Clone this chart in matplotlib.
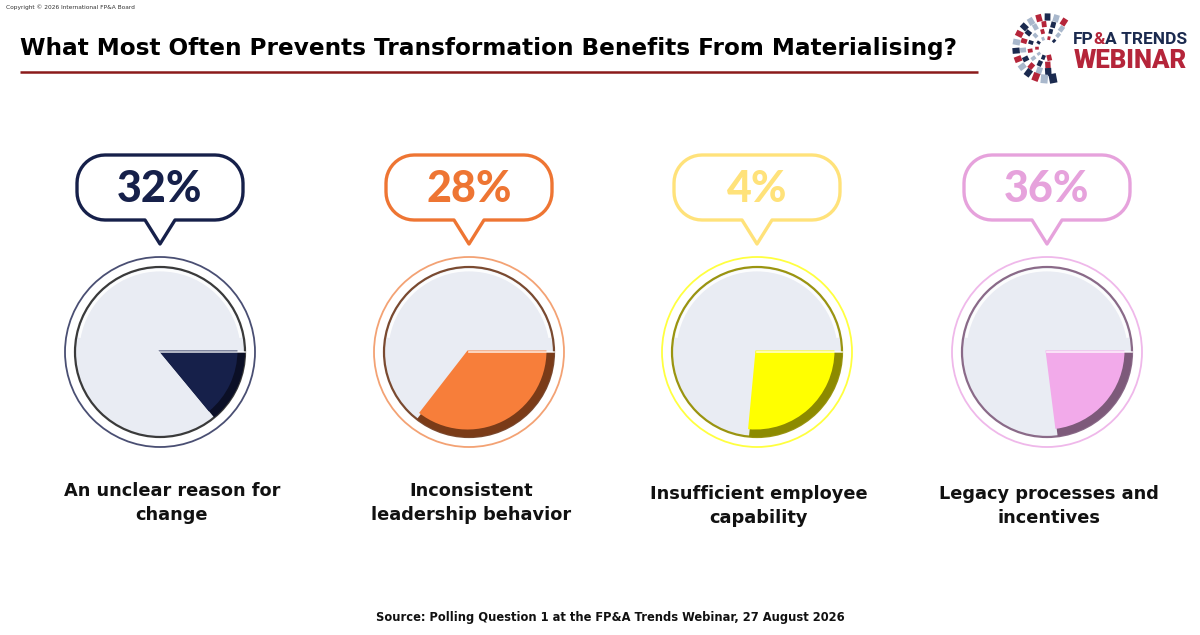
import matplotlib
matplotlib.use("Agg")
import matplotlib.pyplot as plt
import numpy as np
from matplotlib.patches import Arc, Circle, Polygon, Rectangle, Wedge
from matplotlib.transforms import Affine2D

# ---- data ----
categories = [
    "An unclear reason for\nchange",
    "Inconsistent\nleadership behavior",
    "Insufficient employee\ncapability",
    "Legacy processes and\nincentives",
]
percent_values = [32, 28, 4, 36]
# the pies are decorative: wedge share of the circle as drawn
wedge_fracs = [0.14, 0.355, 0.265, 0.23]

title = "What Most Often Prevents Transformation Benefits From Materialising?"
source = "Source: Polling Question 1 at the FP&A Trends Webinar, 27 August 2026"
copyright_txt = "Copyright \u00a9 2026 International FP&A Board"

# ---- styling ----
text_colors = ["#16204a", "#ee7533", "#ffe27a", "#e6a2dc"]
wedge_colors = ["#16204a", "#f77e3a", "#ffff00", "#f2aaea"]
shade_colors = ["#0b0f26", "#7a3b18", "#8c8a00", "#7d5a7a"]
ring_colors = ["#4a4f73", "#f3a274", "#ffff40", "#efb8ea"]
edge_colors = ["#3a3a3a", "#7a4a30", "#9a9410", "#8a6a88"]
pie_face = "#e9ecf3"

centers_x = [160, 469, 757, 1047]
pie_y = 352
ring_r = 95
pie_r = 85

fig = plt.figure(figsize=(12, 6.35), dpi=100)
ax = fig.add_axes([0, 0, 1, 1])
ax.set_xlim(0, 1200)
ax.set_ylim(635, 0)
ax.axis("off")


def bubble_points(cx, top, w, h, rr, tail_half, tail_len):
    """Rounded rectangle with a downward tail, screen coords (y down)."""
    l, r, t, b = cx - w / 2, cx + w / 2, top, top + h
    pts = []

    def arc(xc, yc, a0, a1):
        for a in np.linspace(np.radians(a0), np.radians(a1), 12):
            pts.append((xc + rr * np.cos(a), yc + rr * np.sin(a)))

    arc(r - rr, t + rr, -90, 0)
    arc(r - rr, b - rr, 0, 90)
    pts.append((cx + tail_half, b))
    pts.append((cx, b + tail_len))
    pts.append((cx - tail_half, b))
    arc(l + rr, b - rr, 90, 180)
    arc(l + rr, t + rr, 180, 270)
    return pts


for i, cx in enumerate(centers_x):
    # speech bubble with the percentage
    pts = bubble_points(cx, 155, 166, 65, 28, 15, 24)
    ax.add_patch(Polygon(pts, closed=True, facecolor="white",
                         edgecolor=text_colors[i], lw=2.4, joinstyle="round"))
    ax.text(cx, 189, f"{percent_values[i]}%", ha="center", va="center",
            fontsize=31, fontweight="black", family=["Lato", "DejaVu Sans"],
            color=text_colors[i])

    # outer thin ring
    ax.add_patch(Circle((cx, pie_y), ring_r, facecolor="white",
                        edgecolor=ring_colors[i], lw=1.3))
    # pie background
    ax.add_patch(Circle((cx, pie_y), pie_r, facecolor=pie_face,
                        edgecolor=edge_colors[i], lw=1.6))
    # soft highlight along the top of the pie
    ax.add_patch(Arc((cx, pie_y), 2 * (pie_r - 3), 2 * (pie_r - 3),
                     theta1=190, theta2=350, color="white", lw=2, alpha=0.9))

    # bevelled wedge: dark base, lighter face
    ang = wedge_fracs[i] * 360
    ax.add_patch(Wedge((cx, pie_y), pie_r, 0, ang, facecolor=shade_colors[i],
                       edgecolor="none"))
    ax.add_patch(Wedge((cx - 1.5, pie_y - 1.5), pie_r - 6, 0, ang,
                       facecolor=wedge_colors[i], edgecolor="none"))
    ax.plot([cx, cx + pie_r], [pie_y, pie_y], color="white", lw=1.2, alpha=0.8)

    # category label
    label_y = 503 if i < 2 else 506
    ax.text(cx + (12 if i == 0 else 2), label_y, categories[i], ha="center", va="center",
            fontsize=12.8, fontweight="bold", color="#111111", linespacing=1.4)

# ---- header ----
ax.text(6, 7, copyright_txt, fontsize=4.2, color="#333333", va="center")
ax.text(20, 48, title, fontsize=16.7, fontweight="bold", color="#000000", va="center")
ax.plot([20, 978], [72, 72], color="#8b1a1a", lw=1.8, solid_capstyle="butt")

# ---- logo: fan of small tiles ----
logo_cols = ["#1b2a4f", "#b5253a", "#a9b8cc"]
lcx, lcy = 1047, 48
k = 0
for ring, rad in enumerate([10, 17, 24, 31]):
    step = 34 - ring * 6
    for phi in np.arange(45 + ring * 4, 292, step):
        size = 3.6 + ring * 1.2 + max(0, phi - 220) / 28
        x = lcx + rad * np.cos(np.radians(phi))
        y = lcy - rad * np.sin(np.radians(phi))
        sq = Rectangle((x - size / 2, y - size * 0.4), size, size * 0.8,
                       facecolor=logo_cols[k % 3], edgecolor="none")
        sq.set_transform(Affine2D().rotate_deg_around(x, y, -phi) + ax.transData)
        ax.add_patch(sq)
        k += 1

fig.canvas.draw()
renderer = fig.canvas.get_renderer()
x0 = 1073
for seg, col in [("FP", "#1b2a4f"), ("&", "#b5253a"), ("A TRENDS", "#1b2a4f")]:
    t = ax.text(x0, 39, seg, fontsize=12.5, fontweight="bold", family=["Roboto", "DejaVu Sans"],
                color=col, va="center", ha="left")
    x0 += t.get_window_extent(renderer).width
ax.text(1074, 61, "WEBINAR", fontsize=18.5, fontweight="black", family=["Roboto", "DejaVu Sans"],
        color="#b5253a", va="center", ha="left")

# ---- footer ----
ax.text(610, 618, source, ha="center", va="center", fontsize=8.3, fontweight="bold",
        color="#111111")

fig.savefig("out.png", dpi=100)
